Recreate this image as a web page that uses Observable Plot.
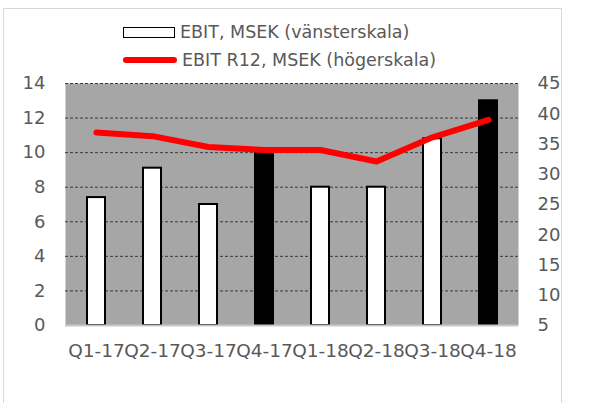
<!DOCTYPE html>
<html>
<head>
<meta charset="utf-8">
<script src="https://cdn.jsdelivr.net/npm/d3@7"></script>
<script src="https://cdn.jsdelivr.net/npm/@observablehq/plot@0.6"></script>
<style>
  html, body { margin: 0; padding: 0; background: #fff; }
  body { width: 609px; height: 403px; position: relative; overflow: hidden; font-family: "DejaVu Sans", sans-serif; }
  #frame { position: absolute; left: 3px; top: 8px; width: 559px; height: 420px; border: 1px solid #d9d9d9; box-sizing: border-box; }
  #legend { position: absolute; left: 0; top: 0; width: 609px; height: 73px; }
  .item { position: absolute; left: 123px; display: flex; align-items: center; color: #595959; font-size: 17.5px; white-space: nowrap; }
  .sw-bar { width: 50px; height: 9px; border: 1.5px solid #000; background: #fff; margin-right: 5px; box-sizing: content-box; }
  .sw-line { width: 54px; height: 6px; border-radius: 3px; background: #ff0000; margin-right: 5px; }
  #chart { position: absolute; left: 0; top: 73px; }
</style>
</head>
<body>
<div id="frame"></div>
<div id="legend">
  <div class="item" style="top:22px;"><span class="sw-bar"></span><span>EBIT, MSEK (vänsterskala)</span></div>
  <div class="item" style="top:50px;"><span class="sw-line"></span><span>EBIT R12, MSEK (högerskala)</span></div>
</div>
<div id="chart"></div>
<script>
const quarters = ["Q1-17","Q2-17","Q3-17","Q4-17","Q1-18","Q2-18","Q3-18","Q4-18"];
const ebit = [7.4, 9.1, 7.0, 10.0, 8.0, 8.0, 10.8, 13.0];
const ebitR12 = [36.9, 36.3, 34.5, 34.0, 34.0, 32.1, 36.1, 39.0];
const highlighted = ["Q4-17", "Q4-18"];
const leftTicks = [0, 2, 4, 6, 8, 10, 12, 14];
const rightTicks = [5, 10, 15, 20, 25, 30, 35, 40, 45];

const leftMax = 14, rightMin = 5, rightMax = 45;
const toLeft = v => (v - rightMin) * leftMax / (rightMax - rightMin);

const bars = quarters.map((q, i) => ({q, v: ebit[i], hi: highlighted.includes(q)}));
const line = quarters.map((q, i) => ({q, v: toLeft(ebitR12[i])}));

const plot = Plot.plot({
  width: 609,
  height: 330,
  marginLeft: 65,
  marginRight: 91,
  marginTop: 10,
  marginBottom: 78,
  style: {fontFamily: "DejaVu Sans, sans-serif", fontSize: "18px", color: "#595959", background: "transparent"},
  x: {domain: quarters, paddingInner: 0.68, paddingOuter: 0.34, label: null},
  y: {domain: [0, 14], label: null},
  marks: [
    Plot.frame({fill: "#a6a6a6", stroke: null}),
    Plot.ruleY(leftTicks.filter(d => d > 0), {stroke: "#3a3a3a", strokeDasharray: "3,2", strokeWidth: 1}),
    Plot.barY(bars, {x: "q", y: "v", fill: d => d.hi ? "#000" : "#fff", stroke: "#000", strokeWidth: 2}),
    Plot.ruleY([0], {stroke: "#c8c8c8", strokeWidth: 2}),
    Plot.line(line, {x: "q", y: "v", stroke: "#ff0000", strokeWidth: 6, strokeLinecap: "round", strokeLinejoin: "round"}),
    Plot.axisY({ticks: leftTicks, tickSize: 0, tickPadding: 20, anchor: "left", label: null, fill: "#595959"}),
    Plot.axisY({ticks: rightTicks.map(toLeft), tickFormat: d => String(Math.round(rightMin + d * (rightMax - rightMin) / leftMax)), tickSize: 0, tickPadding: 19, anchor: "right", textAnchor: "start", label: null, fill: "#595959"}),
    Plot.axisX({tickSize: 0, tickPadding: 18, label: null, fill: "#595959", fontSize: "18.5px"})
  ]
});
document.getElementById("chart").appendChild(plot);
</script>
</body>
</html>
